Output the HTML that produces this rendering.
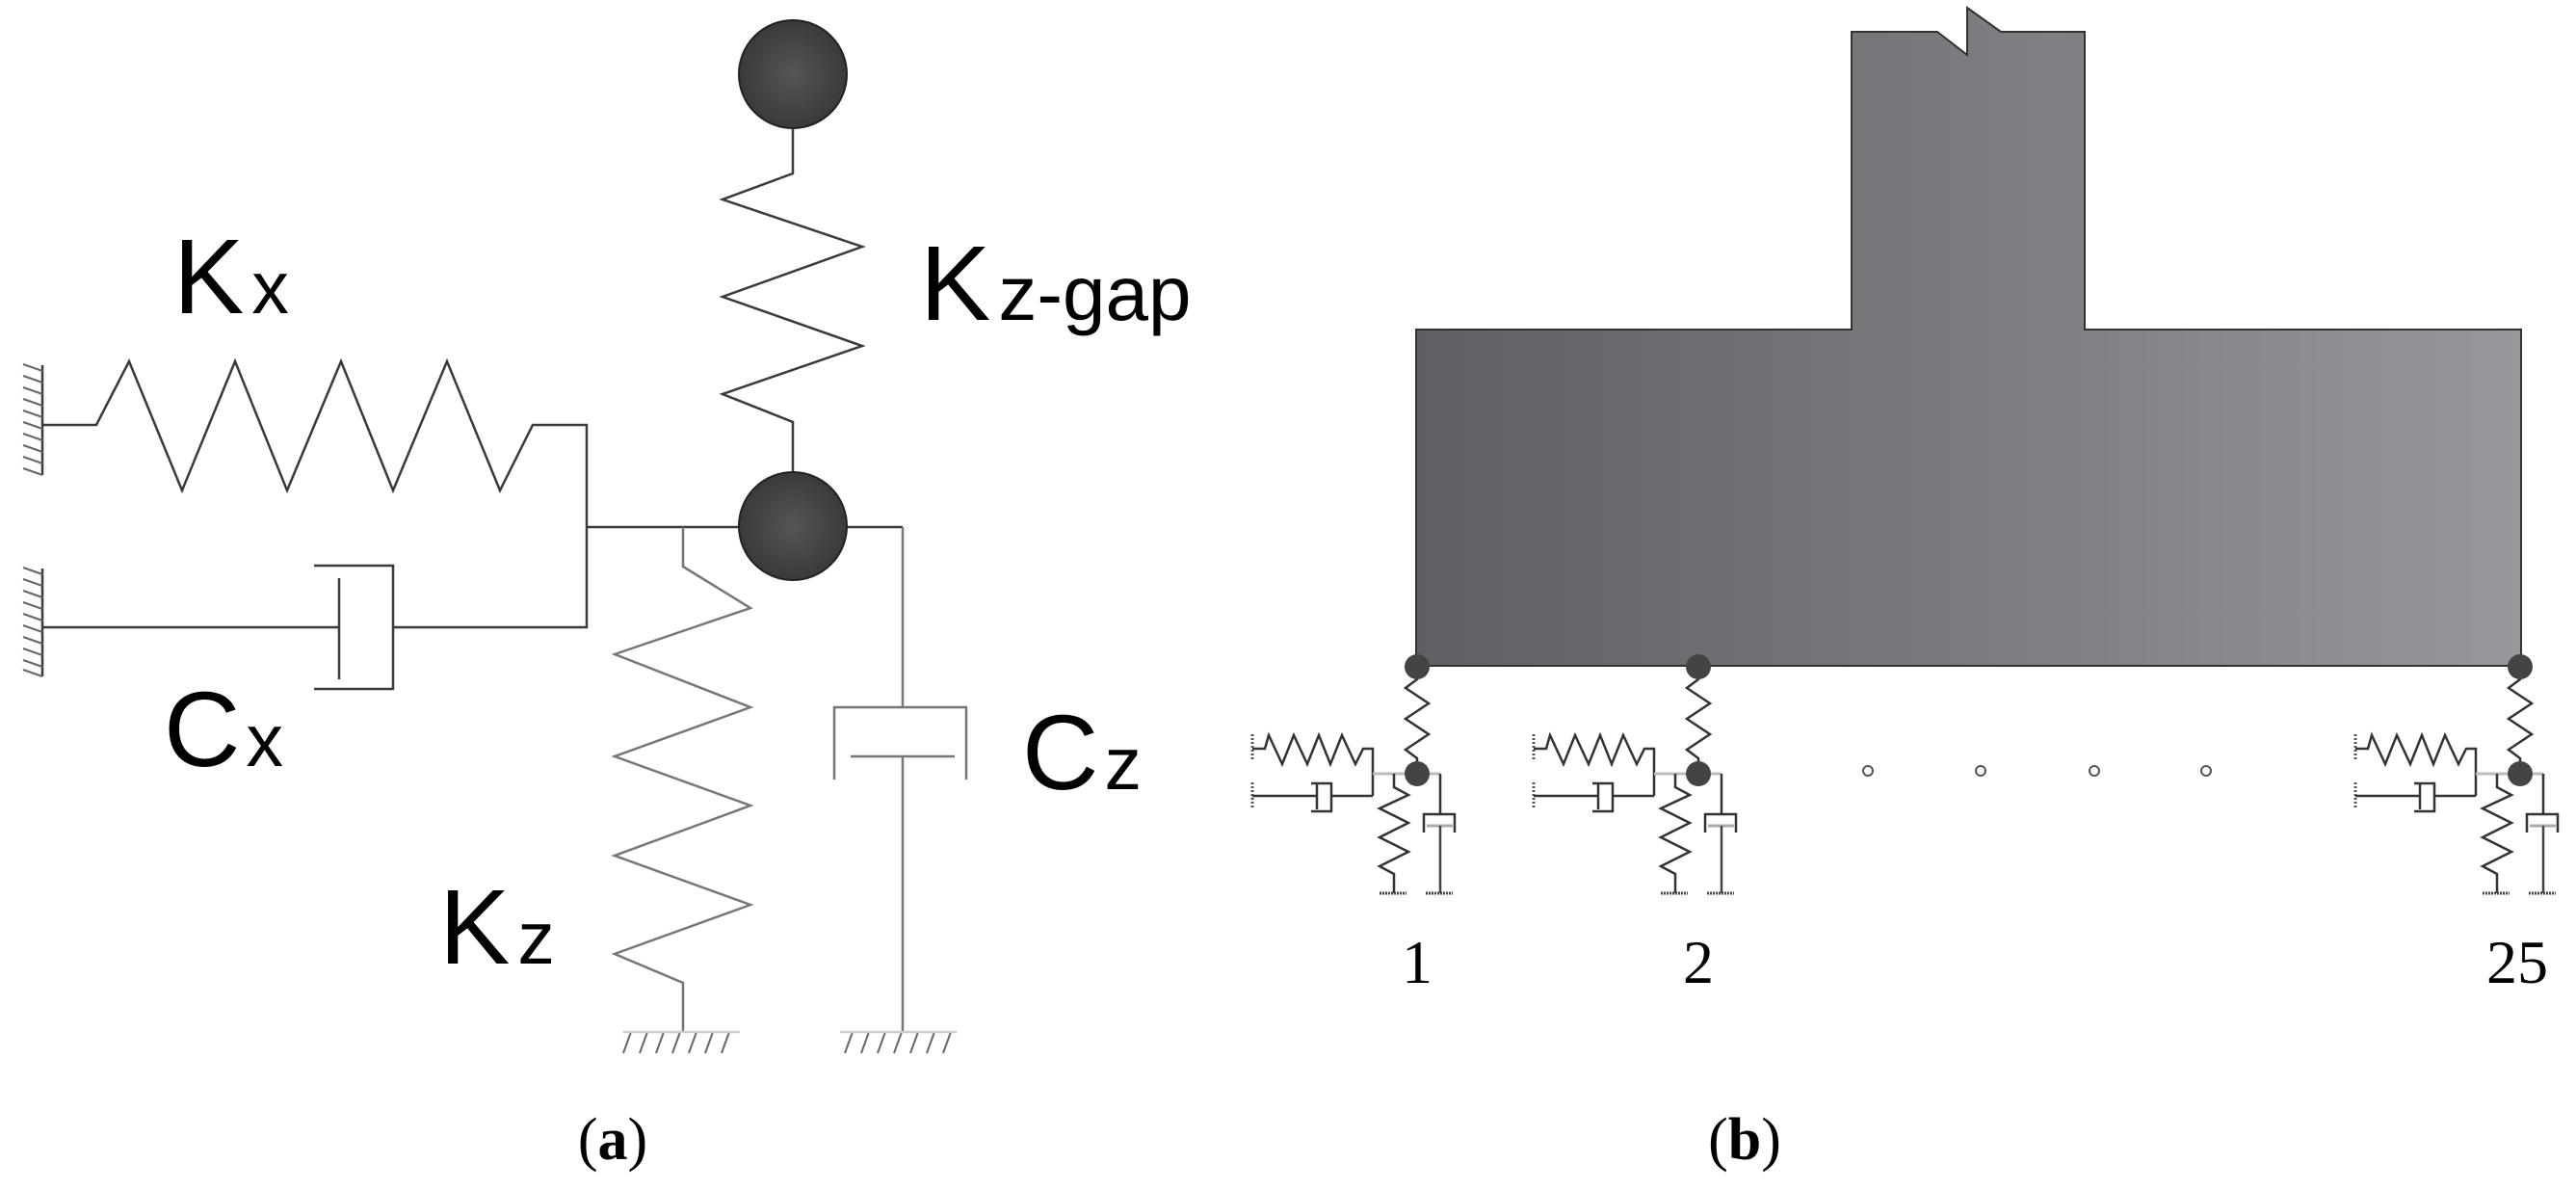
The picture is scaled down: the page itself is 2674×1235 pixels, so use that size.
<!DOCTYPE html>
<html><head><meta charset="utf-8"><style>
html,body{margin:0;padding:0;background:#fff;}
svg{display:block;}
</style></head><body>
<svg width="2674" height="1235" viewBox="0 0 2674 1235" xmlns="http://www.w3.org/2000/svg">
<defs>
<linearGradient id="g" x1="1470" y1="0" x2="2617" y2="0" gradientUnits="userSpaceOnUse">
<stop offset="0" stop-color="#5e5f63"/><stop offset="1" stop-color="#97989c"/>
</linearGradient>
<radialGradient id="ball" cx="0.5" cy="0.5" r="0.5"><stop offset="0" stop-color="#555"/><stop offset="1" stop-color="#3a3a3a"/></radialGradient>
<g id="sub">
 <polyline points="0,0 0,13 -12,22 12,38 -12,54 12,70 -12,86 0,95 0,111" fill="none" stroke="#333" stroke-width="2.5"/>
 <polyline points="-171,85 -158,85 -154,71 -140,101 -128,71 -114,101 -102,71 -90,101 -78,71 -64,101 -56,85 -46,85 -46,134" fill="none" stroke="#333" stroke-width="2.5"/>
 <line x1="-171" y1="70" x2="-171" y2="98" stroke="#555" stroke-width="3" stroke-dasharray="2,2"/>
 <line x1="-171" y1="120" x2="-171" y2="148" stroke="#555" stroke-width="3" stroke-dasharray="2,2"/>
 <polyline points="-171,134 -104,134" fill="none" stroke="#333" stroke-width="2.5"/>
 <line x1="-104" y1="122" x2="-104" y2="148" stroke="#333" stroke-width="2.5"/>
 <polyline points="-110,121 -89,121 -89,150 -110,150" fill="none" stroke="#333" stroke-width="2.5"/>
 <line x1="-89" y1="134" x2="-46" y2="134" stroke="#333" stroke-width="2.5"/>
 <line x1="-46" y1="111" x2="24" y2="111" stroke="#bbb" stroke-width="3"/>
 <polyline points="-24,111 -24,125 -9,133 -39,147 -9,162 -39,177 -9,192 -39,207 -24,215 -24,235" fill="none" stroke="#333" stroke-width="2.5"/>
 <polyline points="24,111 24,153" fill="none" stroke="#333" stroke-width="2.5"/>
 <polyline points="7,172 7,153 39,153 39,172" fill="none" stroke="#333" stroke-width="2.5"/>
 <line x1="10" y1="165" x2="37" y2="165" stroke="#aaa" stroke-width="3"/>
 <line x1="24" y1="165" x2="24" y2="235" stroke="#444" stroke-width="2.5"/>
 <line x1="-39" y1="235" x2="-11" y2="235" stroke="#444" stroke-width="3" stroke-dasharray="2,1"/>
 <line x1="9" y1="235" x2="37" y2="235" stroke="#444" stroke-width="3" stroke-dasharray="2,1"/>
 <circle cx="0" cy="111" r="13" fill="#444"/>
 <circle cx="0" cy="0" r="13" fill="#444"/>
</g>
</defs>

<!-- Panel (a) -->
<g fill="none" stroke="#3a3a3a" stroke-width="2.5">
 <line x1="44" y1="379" x2="44" y2="493"/>
 <line x1="44" y1="590" x2="44" y2="702"/>
</g>
<g stroke="#666" stroke-width="2">
 <path d="M44,385 l-20,-7 M44,397 l-20,-7 M44,409 l-20,-7 M44,421 l-20,-7 M44,433 l-20,-7 M44,445 l-20,-7 M44,457 l-20,-7 M44,469 l-20,-7 M44,481 l-20,-7 M44,493 l-20,-7"/>
 <path d="M44,596 l-20,-7 M44,608 l-20,-7 M44,620 l-20,-7 M44,632 l-20,-7 M44,644 l-20,-7 M44,656 l-20,-7 M44,668 l-20,-7 M44,680 l-20,-7 M44,692 l-20,-7 M44,702 l-20,-7"/>
 <path d="M655,1071 l-8,22 M672,1071 l-8,22 M689,1071 l-8,22 M706,1071 l-8,22 M723,1071 l-8,22 M740,1071 l-8,22 M757,1071 l-8,22"/>
 <path d="M885,1071 l-8,22 M902,1071 l-8,22 M919,1071 l-8,22 M936,1071 l-8,22 M953,1071 l-8,22 M970,1071 l-8,22 M987,1071 l-8,22"/>
</g>
<g fill="none" stroke="#3a3a3a" stroke-width="2.5">
 <polyline points="44,441 100,441 134,375 189,509 244,375 298,509 354,375 408,509 464,375 519,509 553,441 609,441 609,651 408,651"/>
 <line x1="44" y1="651" x2="352" y2="651"/>
 <line x1="352" y1="600" x2="352" y2="705"/>
 <polyline points="326,587 408,587 408,715 326,715"/>
 <line x1="609" y1="547" x2="937" y2="547"/>
 <polyline points="823,73 823,180 750,207 895,256 750,308 895,359 750,409 823,438 823,546"/>
</g>
<g fill="none" stroke="#777" stroke-width="2.5">
 <polyline points="709,547 709,588 779,631 638,679 779,734 638,785 779,836 638,888 779,939 638,990 709,1020 709,1071"/>
 <polyline points="937,547 937,734"/>
 <polyline points="866,809 866,734 1003,734 1003,809"/>
 <line x1="883" y1="785" x2="991" y2="785"/>
 <line x1="937" y1="785" x2="937" y2="1071"/>
 <line x1="647" y1="1071" x2="768" y2="1071" stroke="#ccc"/>
 <line x1="872" y1="1071" x2="993" y2="1071" stroke="#ccc"/>
</g>
<circle cx="823" cy="77" r="56" fill="url(#ball)" stroke="#222" stroke-width="2"/>
<circle cx="823" cy="546" r="56" fill="url(#ball)" stroke="#222" stroke-width="2"/>
<g font-family="'Liberation Sans',sans-serif" fill="#000">
 <text x="180" y="325" font-size="110">K<tspan font-size="77" dx="8">x</tspan></text>
 <text x="955" y="332" font-size="110">K<tspan font-size="80" dx="8">z-gap</tspan></text>
 <text x="170" y="795" font-size="110">C<tspan font-size="77" dx="6">x</tspan></text>
 <text x="1061" y="819" font-size="110">C<tspan font-size="77" dx="6">z</tspan></text>
 <text x="456" y="1000" font-size="110">K<tspan font-size="77" dx="8">z</tspan></text>
</g>
<text x="636" y="1203" text-anchor="middle" font-family="'Liberation Serif',serif" font-size="62">(<tspan font-weight="bold">a</tspan>)</text>

<!-- Panel (b) -->
<path d="M1470,342 L1922,342 L1922,33 L2011,33 L2042,57 L2042,8 L2077,33 L2164,33 L2164,342 L2617,342 L2617,691 L1470,691 Z" fill="url(#g)" stroke="#333" stroke-width="2"/>
<line x1="1922" y1="40" x2="1922" y2="300" stroke="#333" stroke-width="2" stroke-dasharray="10,6"/>
<line x1="2164" y1="40" x2="2164" y2="300" stroke="#333" stroke-width="2" stroke-dasharray="30,14"/>
<use href="#sub" transform="translate(1471,692)"/>
<use href="#sub" transform="translate(1763,692)"/>
<use href="#sub" transform="translate(2616,692)"/>
<g fill="none" stroke="#555" stroke-width="2">
 <circle cx="1939" cy="800" r="5"/><circle cx="2056" cy="800" r="5"/><circle cx="2174" cy="800" r="5"/><circle cx="2290" cy="800" r="5"/>
</g>
<g font-family="'Liberation Serif',serif" font-size="64" text-anchor="middle">
 <text x="1471" y="1020">1</text>
 <text x="1763" y="1020">2</text>
 <text x="2613" y="1020">25</text>
</g>
<text x="1811" y="1203" text-anchor="middle" font-family="'Liberation Serif',serif" font-size="62">(<tspan font-weight="bold">b</tspan>)</text>
</svg>
</body></html>
